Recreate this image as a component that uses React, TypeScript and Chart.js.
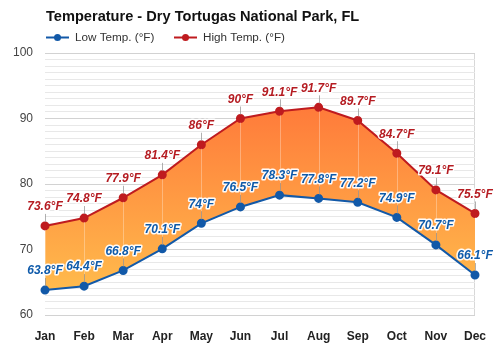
import React, { useEffect, useRef } from "react";
import { Chart, registerables } from "chart.js";

Chart.register(...registerables);

const TITLE = "Temperature - Dry Tortugas National Park, FL";
const MONTHS = ["Jan", "Feb", "Mar", "Apr", "May", "Jun", "Jul", "Aug", "Sep", "Oct", "Nov", "Dec"];
const LOW_TEMPS = [63.8, 64.4, 66.8, 70.1, 74, 76.5, 78.3, 77.8, 77.2, 74.9, 70.7, 66.1];
const HIGH_TEMPS = [73.6, 74.8, 77.9, 81.4, 86, 90, 91.1, 91.7, 89.7, 84.7, 79.1, 75.5];
const LOW_LABEL = "Low Temp. (°F)";
const HIGH_LABEL = "High Temp. (°F)";
const Y_MIN = 60;
const Y_MAX = 100;

const LOW_COLOR = "#1259a8";
const HIGH_COLOR = "#bf1b1f";
const LOW_TEXT = "#0e5aaa";
const HIGH_TEXT = "#b51c22";
const FONT = "'Liberation Sans', Arial, Helvetica, sans-serif";

function fmt(v: number) {
  return `${v}°F`;
}

const overlayPlugin = {
  id: "overlay",
  afterDatasetsDraw(chart: any) {
    const ctx = chart.ctx;
    const lowMeta = chart.getDatasetMeta(0);
    const highMeta = chart.getDatasetMeta(1);
    ctx.save();
    for (let i = 0; i < MONTHS.length; i++) {
      const hp = highMeta.data[i];
      const lp = lowMeta.data[i];
      ctx.strokeStyle = "rgba(255,255,255,0.3)";
      ctx.lineWidth = 1;
      ctx.beginPath();
      ctx.moveTo(Math.round(hp.x) + 0.5, hp.y + 4);
      ctx.lineTo(Math.round(lp.x) + 0.5, lp.y - 12);
      ctx.stroke();
    }
    const drawSet = (meta: any, values: number[], color: string) => {
      for (let i = 0; i < values.length; i++) {
        const p = meta.data[i];
        const x = p.x;
        const y = p.y;
        ctx.strokeStyle = "rgba(150,150,150,0.75)";
        ctx.lineWidth = 1;
        ctx.beginPath();
        ctx.moveTo(Math.round(x) + 0.5, y - 4);
        ctx.lineTo(Math.round(x) + 0.5, y - 12);
        ctx.stroke();
        ctx.font = `italic bold 12px ${FONT}`;
        ctx.textAlign = "center";
        ctx.textBaseline = "middle";
        ctx.lineJoin = "round";
        ctx.strokeStyle = "rgba(255,255,255,0.95)";
        ctx.lineWidth = 3;
        const t = fmt(values[i]);
        ctx.strokeText(t, x, y - 19);
        ctx.fillStyle = color;
        ctx.fillText(t, x, y - 19);
      }
    };
    drawSet(highMeta, HIGH_TEMPS, HIGH_TEXT);
    drawSet(lowMeta, LOW_TEMPS, LOW_TEXT);
    ctx.restore();
  },
  afterDraw(chart: any) {
    const ctx = chart.ctx;
    const left = chart.chartArea.left;
    ctx.save();
    ctx.fillStyle = "#111";
    ctx.font = `bold 14.6px ${FONT}`;
    ctx.textAlign = "left";
    ctx.textBaseline = "middle";
    ctx.fillText(TITLE, left + 1, 17);

    const drawLegend = (x: number, color: string, label: string) => {
      ctx.strokeStyle = color;
      ctx.lineWidth = 2;
      ctx.beginPath();
      ctx.moveTo(x, 37.5);
      ctx.lineTo(x + 23, 37.5);
      ctx.stroke();
      ctx.fillStyle = color;
      ctx.beginPath();
      ctx.arc(x + 11.5, 37.5, 3.5, 0, Math.PI * 2);
      ctx.fill();
      ctx.fillStyle = "#333";
      ctx.font = `11.7px ${FONT}`;
      ctx.textBaseline = "middle";
      ctx.fillText(label, x + 29, 37.5);
    };
    drawLegend(left + 1, LOW_COLOR, LOW_LABEL);
    drawLegend(left + 129, HIGH_COLOR, HIGH_LABEL);
    ctx.restore();
  },
};

export default function App() {
  const canvasRef = useRef<HTMLCanvasElement | null>(null);

  useEffect(() => {
    document.body.style.margin = "0";
    const canvas = canvasRef.current;
    if (!canvas) return;
    const chart = new Chart(canvas, {
      type: "line",
      data: {
        labels: MONTHS,
        datasets: [
          {
            label: LOW_LABEL,
            data: LOW_TEMPS,
            borderColor: LOW_COLOR,
            backgroundColor: LOW_COLOR,
            pointBackgroundColor: LOW_COLOR,
            pointBorderColor: LOW_COLOR,
            pointRadius: 3.5,
            borderWidth: 2,
            tension: 0,
            fill: false,
            order: 0,
          },
          {
            label: HIGH_LABEL,
            data: HIGH_TEMPS,
            borderColor: HIGH_COLOR,
            pointBackgroundColor: HIGH_COLOR,
            pointBorderColor: HIGH_COLOR,
            pointRadius: 3.5,
            borderWidth: 2,
            tension: 0,
            order: 1,
            fill: { target: 0 },
            backgroundColor: (c: any) => {
              const ch = c.chart;
              const area = ch.chartArea;
              if (!area) return "rgba(255,150,60,0.9)";
              const ys = ch.scales.y;
              const g = ch.ctx.createLinearGradient(0, ys.getPixelForValue(92), 0, ys.getPixelForValue(64));
              g.addColorStop(0, "rgb(255,122,58)");
              g.addColorStop(1, "rgb(255,186,76)");
              return g;
            },
          },
        ],
      },
      options: {
        animation: false,
        responsive: false,
        layout: { padding: { top: 53, right: 25, left: 0, bottom: 0 } },
        plugins: {
          legend: { display: false },
          title: { display: false },
          tooltip: { enabled: false },
        },
        scales: {
          x: {
            offset: false,
            afterFit: (s: any) => {
              s.height = 35;
            },
            border: { display: false },
            grid: {
              drawTicks: false,
              color: (c: any) => (c.index === MONTHS.length - 1 ? "#d8d8d8" : "rgba(0,0,0,0)"),
            },
            ticks: {
              padding: 14,
              color: "#222",
              font: { family: FONT, size: 12, weight: "bold" },
              maxRotation: 0,
            },
          },
          y: {
            min: Y_MIN,
            max: Y_MAX,
            afterFit: (s: any) => {
              s.width = 45;
            },
            border: { display: false },
            grid: {
              drawTicks: false,
              color: (c: any) => (c.tick && c.tick.value % 10 === 0 ? "#d2d2d2" : "#e8e8e8"),
            },
            ticks: {
              stepSize: 1,
              autoSkip: false,
              padding: 12,
              color: "#444",
              font: { family: FONT, size: 12 },
              callback: (v: any) => (Number(v) % 10 === 0 ? String(v) : ""),
            },
          },
        },
      },
      plugins: [overlayPlugin],
    });
    return () => chart.destroy();
  }, []);

  return (
    <div style={{ width: 500, height: 350 }}>
      <canvas ref={canvasRef} width={500} height={350} style={{ display: "block" }} />
    </div>
  );
}
